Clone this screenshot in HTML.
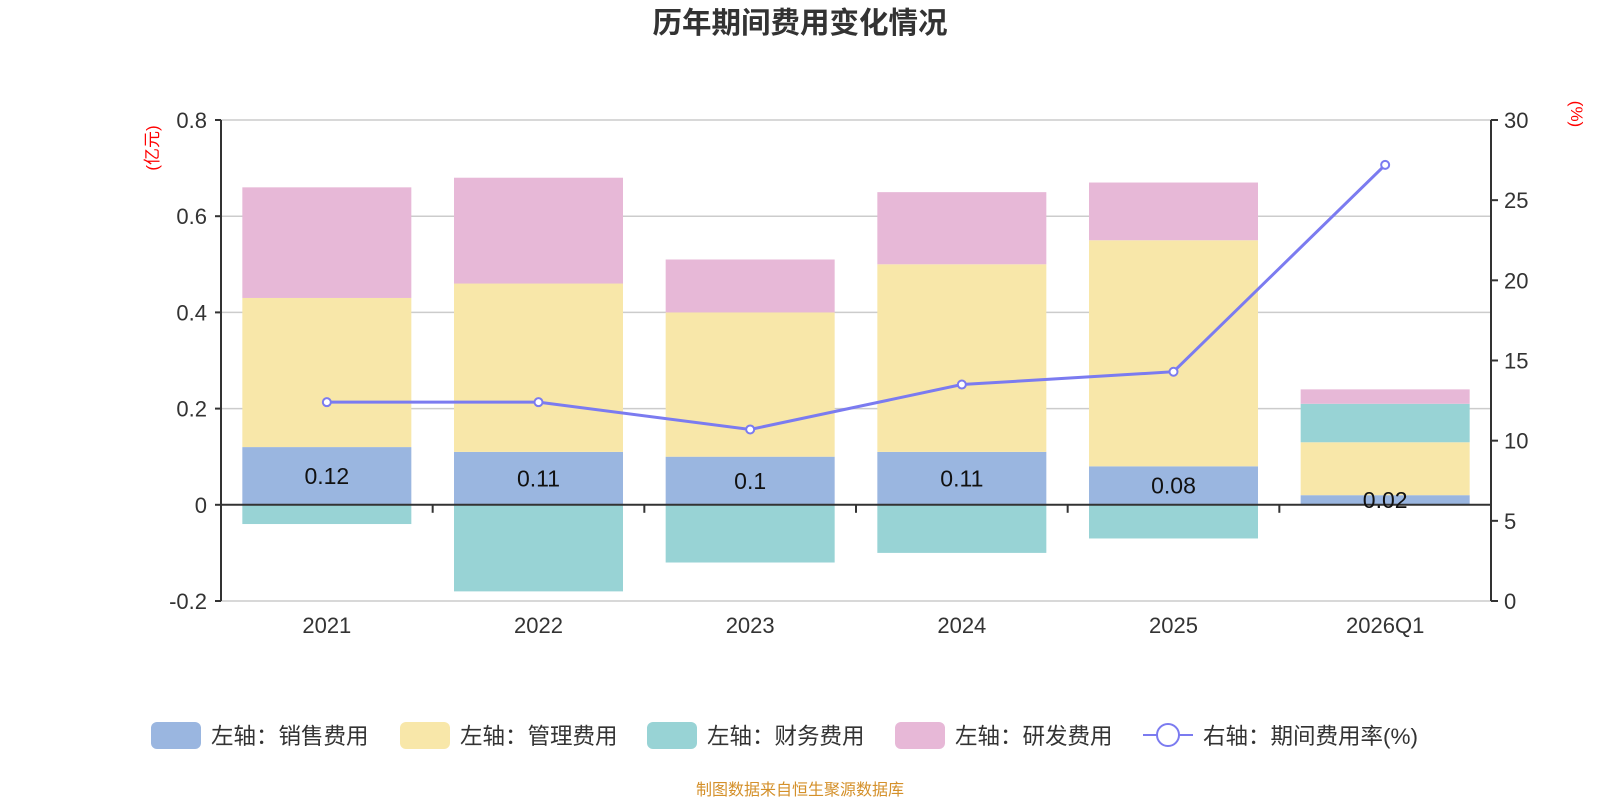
<!DOCTYPE html>
<html><head><meta charset="utf-8"><style>
body{margin:0;background:#fff;}
svg{display:block;font-family:"Liberation Sans","Noto Sans CJK SC",sans-serif;}
</style></head><body>
<svg id="chart" width="1600" height="800" xmlns="http://www.w3.org/2000/svg">
<text x="800" y="33" text-anchor="middle" font-size="29.5" font-weight="bold" fill="#333">历年期间费用变化情况</text>
<text transform="translate(158,148) rotate(-90)" text-anchor="middle" font-size="17" fill="#f00">(亿元)</text>
<text transform="translate(1571,114) rotate(90)" text-anchor="middle" font-size="17" fill="#f00">(%)</text>
<g id="grid"></g><g id="bars"></g><g id="axes"></g><g id="line"></g>
<g id="legend"></g>
<text x="800" y="795" text-anchor="middle" font-size="16" fill="#d4902a">制图数据来自恒生聚源数据库</text>
</svg>
<script>
const categories=["2021","2022","2023","2024","2025","2026Q1"];
const sales=[0.12,0.11,0.1,0.11,0.08,0.02];
const admin=[0.31,0.35,0.30,0.39,0.47,0.11];
const finance=[-0.04,-0.18,-0.12,-0.10,-0.07,0.08];
const rnd=[0.23,0.22,0.11,0.15,0.12,0.03];
const rate=[12.4,12.4,10.7,13.5,14.3,27.2];
const leftTicks=[-0.2,0,0.2,0.4,0.6,0.8];
const rightTicks=[0,5,10,15,20,25,30];
const NS="http://www.w3.org/2000/svg";
const X0=221,X1=1491,Y0=601,Y1=120;
const yL=v=>Y0-(v+0.2)/1.0*(Y0-Y1);
const yR=v=>Y0-v/30*(Y0-Y1);
const band=(X1-X0)/categories.length;
const xC=i=>X0+band*(i+0.5);
const BW=169;
function mk(tag,attrs,parent,text){const e=document.createElementNS(NS,tag);for(const k in attrs)e.setAttribute(k,attrs[k]);if(text!==undefined)e.textContent=text;parent.appendChild(e);return e;}
const grid=document.getElementById('grid'),bars=document.getElementById('bars'),axes=document.getElementById('axes'),lineG=document.getElementById('line'),leg=document.getElementById('legend');
leftTicks.forEach(t=>{
  const l=mk('line',{x1:X0,x2:X1,y1:yL(t),y2:yL(t),stroke:'#ccc','stroke-width':1.5},grid);
  
  
  const tx=mk('text',{x:X0-14,y:yL(t)+8,'text-anchor':'end','font-size':22,fill:'#333'},axes,String(t));
  
  
  mk('line',{x1:X0-6,x2:X0,y1:yL(t),y2:yL(t),stroke:'#333','stroke-width':2},axes);
});
rightTicks.forEach(t=>{
  mk('line',{x1:X1,x2:X1+7,y1:yR(t),y2:yR(t),stroke:'#333','stroke-width':2},axes);
  const tx=mk('text',{x:X1+13,y:yR(t)+8,'font-size':22,fill:'#333'},axes,String(t));
  
  
});
const colors={sales:'#9ab6e0',admin:'#f8e7a9',finance:'#98d3d5',rnd:'#e7b8d7'};
categories.forEach((c,i)=>{
  let pos=0,neg=0;
  [['sales',sales],['admin',admin],['finance',finance],['rnd',rnd]].forEach(([k,arr])=>{
    const v=arr[i];let a,b;
    if(v>=0){a=pos;b=pos+v;pos=b;}else{a=neg;b=neg+v;neg=b;}
    const top=Math.min(yL(a),yL(b)),h=Math.abs(yL(a)-yL(b));
    const r=mk('rect',{x:xC(i)-BW/2,y:top,width:BW,height:h,fill:colors[k]},bars);
    
    
  });
  const lb=mk('text',{x:xC(i),y:(yL(0)+yL(sales[i]))/2+8,'text-anchor':'middle','font-size':23,fill:'#111'},lineG,String(sales[i]));
  
  
  const xl=mk('text',{x:xC(i),y:633,'text-anchor':'middle','font-size':22,fill:'#333'},axes,c);
  
  
});
for(let i=1;i<categories.length;i++)mk('line',{x1:X0+band*i,x2:X0+band*i,y1:yL(0),y2:yL(0)+8,stroke:'#333','stroke-width':2},axes);
mk('line',{x1:X0,x2:X1,y1:yL(0),y2:yL(0),stroke:'#333','stroke-width':2},axes);
mk('line',{x1:X0,x2:X0,y1:Y1,y2:Y0,stroke:'#333','stroke-width':2},axes);
mk('line',{x1:X1,x2:X1,y1:Y1,y2:Y0,stroke:'#333','stroke-width':2},axes);
const pts=rate.map((v,i)=>xC(i)+','+yR(v)).join(' ');
const pl=mk('polyline',{points:pts,fill:'none',stroke:'#7b7bf0','stroke-width':3},lineG);


rate.forEach((v,i)=>{
  const cc=mk('circle',{cx:xC(i),cy:yR(v),r:4,fill:'#fff',stroke:'#7b7bf0','stroke-width':2},lineG);
  
  
});
const items=[['左轴：销售费用',colors.sales,151],['左轴：管理费用',colors.admin,400],['左轴：财务费用',colors.finance,647],['左轴：研发费用',colors.rnd,895]];
items.forEach(([t,col,x])=>{
  const g=mk('g',{},leg);
  
  
  mk('rect',{x:x,y:722,width:50,height:27,rx:6,fill:col},g);
  mk('text',{x:x+60,y:744,'font-size':22.5,fill:'#333'},g,t);
});
const g=mk('g',{},leg);


mk('line',{x1:1143,x2:1193,y1:735,y2:735,stroke:'#7b7bf0','stroke-width':2},g);
mk('circle',{cx:1168,cy:735,r:11,fill:'#fff',stroke:'#7b7bf0','stroke-width':2},g);
mk('text',{x:1203,y:744,'font-size':22.5,fill:'#333'},g,'右轴：期间费用率(%)');
</script>
</body></html>
